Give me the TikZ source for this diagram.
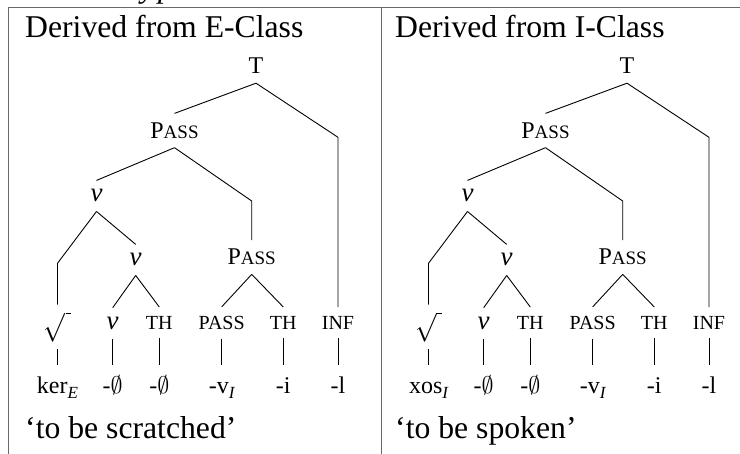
\RequirePackage{fix-cm}
\documentclass[tikz,border=0pt]{standalone}
\usepackage{exscale}
\usepackage{graphicx}
\usepackage{fontspec}
\setmainfont{Liberation Serif}
\newcommand\myHead{\fontsize{31.7}{38}\selectfont}
\newcommand\myTree{\fontsize{24}{28}\selectfont}
\newcommand\mySc{\fontsize{20}{24}\selectfont}
\newcommand\myV{\fontsize{27}{30}\selectfont\itshape}
\newcommand\myASS{{\fontsize{19}{22}\selectfont ASS}}
\newcommand\mySub[1]{\raisebox{-5pt}{\fontsize{17}{17}\selectfont\itshape #1}}
\newcommand\myRoot{\resizebox*{27pt}{30pt}{\fontsize{24}{28}\selectfont$\sqrt{\hspace{5pt}}$}}
\definecolor{framegray}{RGB}{105,105,105}
\tikzset{
  every node/.style={inner xsep=0pt, inner ysep=9pt, anchor=base},
  head/.style={font=\myHead, inner ysep=0pt, anchor=base west},
  tree/.style={font=\myTree},
  vv/.style={font=\myV},
  scl/.style={font=\mySc},
  rootnode/.style={inner ysep=7pt, anchor=south},
  bot/.style={font=\myTree, text height=19pt},
  edge/.style={line width=0.9pt, black},
  frame/.style={line width=1.3pt, framegray}
}
% #1 prefix, #2 xshift, #3 class letter, #4 root morpheme, #5 caption, #6 header x
\newcommand\drawPanel[6]{%
\begin{scope}[xshift=#2]
  \node[head] (#1hd) at (#6,37.3) {Derived from #3-Class};
  \node[tree] (#1T) at (256,74) {T};
  \node[tree] (#1P1) at (174.5,138.3) {P\myASS};
  \node[vv] (#1v1) at (96.5,202) {v};
  \node[tree] (#1P2) at (251.7,265) {P\myASS};
  \node[vv] (#1v2) at (135.7,266) {v};
  \node[rootnode] (#1rt) at (57.5,349) {\myRoot};
  \node[vv] (#1vl) at (112.7,329.3) {v};
  \node[scl] (#1tha) at (159.3,329.3) {TH};
  \node[scl] (#1ps) at (221.7,329.3) {PASS};
  \node[scl] (#1thb) at (283.3,329.3) {TH};
  \node[scl] (#1inf) at (338,329.3) {INF};
  \node[bot] (#1ma) at (57.5,393.3) {#4};
  \node[bot] (#1mb) at (112.7,393.3) {-$\emptyset$};
  \node[bot] (#1mc) at (159.3,393.3) {-$\emptyset$};
  \node[bot] (#1md) at (221.7,393.3) {-v\mySub{I}};
  \node[bot] (#1me) at (283.3,393.3) {-i};
  \node[bot] (#1mf) at (338,393.3) {-l};
  \node[head] (#1cap) at (#6,438.3) {#5};
  \coordinate (#1ba) at (338,137.3);
  \coordinate (#1bb) at (251.7,201);
  \coordinate (#1bc) at (57.5,263.3);
  \draw[edge] (#1T.south) -- (#1P1.north);
  \draw[edge] (#1T.south) -- (#1ba) -- (#1inf.north);
  \draw[edge] (#1P1.south) -- (#1v1.north);
  \draw[edge] (#1P1.south) -- (#1bb) -- (#1P2.north);
  \draw[edge] (#1v1.south) -- (#1bc) -- (#1rt.north);
  \draw[edge] (#1v1.south) -- (#1v2.north);
  \draw[edge] (#1v2.south) -- (#1vl.north);
  \draw[edge] (#1v2.south) -- (#1tha.north);
  \draw[edge] (#1P2.south) -- (#1ps.north);
  \draw[edge] (#1P2.south) -- (#1thb.north);
  \draw[edge] (#1rt.south) -- (#1ma.north);
  \draw[edge] (#1vl.south) -- (#1mb.north);
  \draw[edge] (#1tha.south) -- (#1mc.north);
  \draw[edge] (#1ps.south) -- (#1md.north);
  \draw[edge] (#1thb.south) -- (#1me.north);
  \draw[edge] (#1inf.south) -- (#1mf.north);
\end{scope}}
\begin{document}
\begin{tikzpicture}[x=1pt,y=-1pt]
  \useasboundingbox (0,0) rectangle (740,454);
  \node[font=\myHead\itshape, inner sep=0pt, anchor=base west] (fragy) at (141,-2.7) {y};
  \node[font=\myHead\itshape, inner sep=0pt, anchor=base west] (fragp) at (158,-2.7) {p};
  \draw[frame] (8.3,454) -- (8.3,7.5) -- (740,7.5);
  \draw[frame] (381.7,7.5) -- (381.7,454);
  \drawPanel{L}{0pt}{E}{ker\mySub{E}}{`to be scratched'}{25}
  \drawPanel{R}{371pt}{I}{xos\mySub{I}}{`to be spoken'}{24}
\end{tikzpicture}
\end{document}
